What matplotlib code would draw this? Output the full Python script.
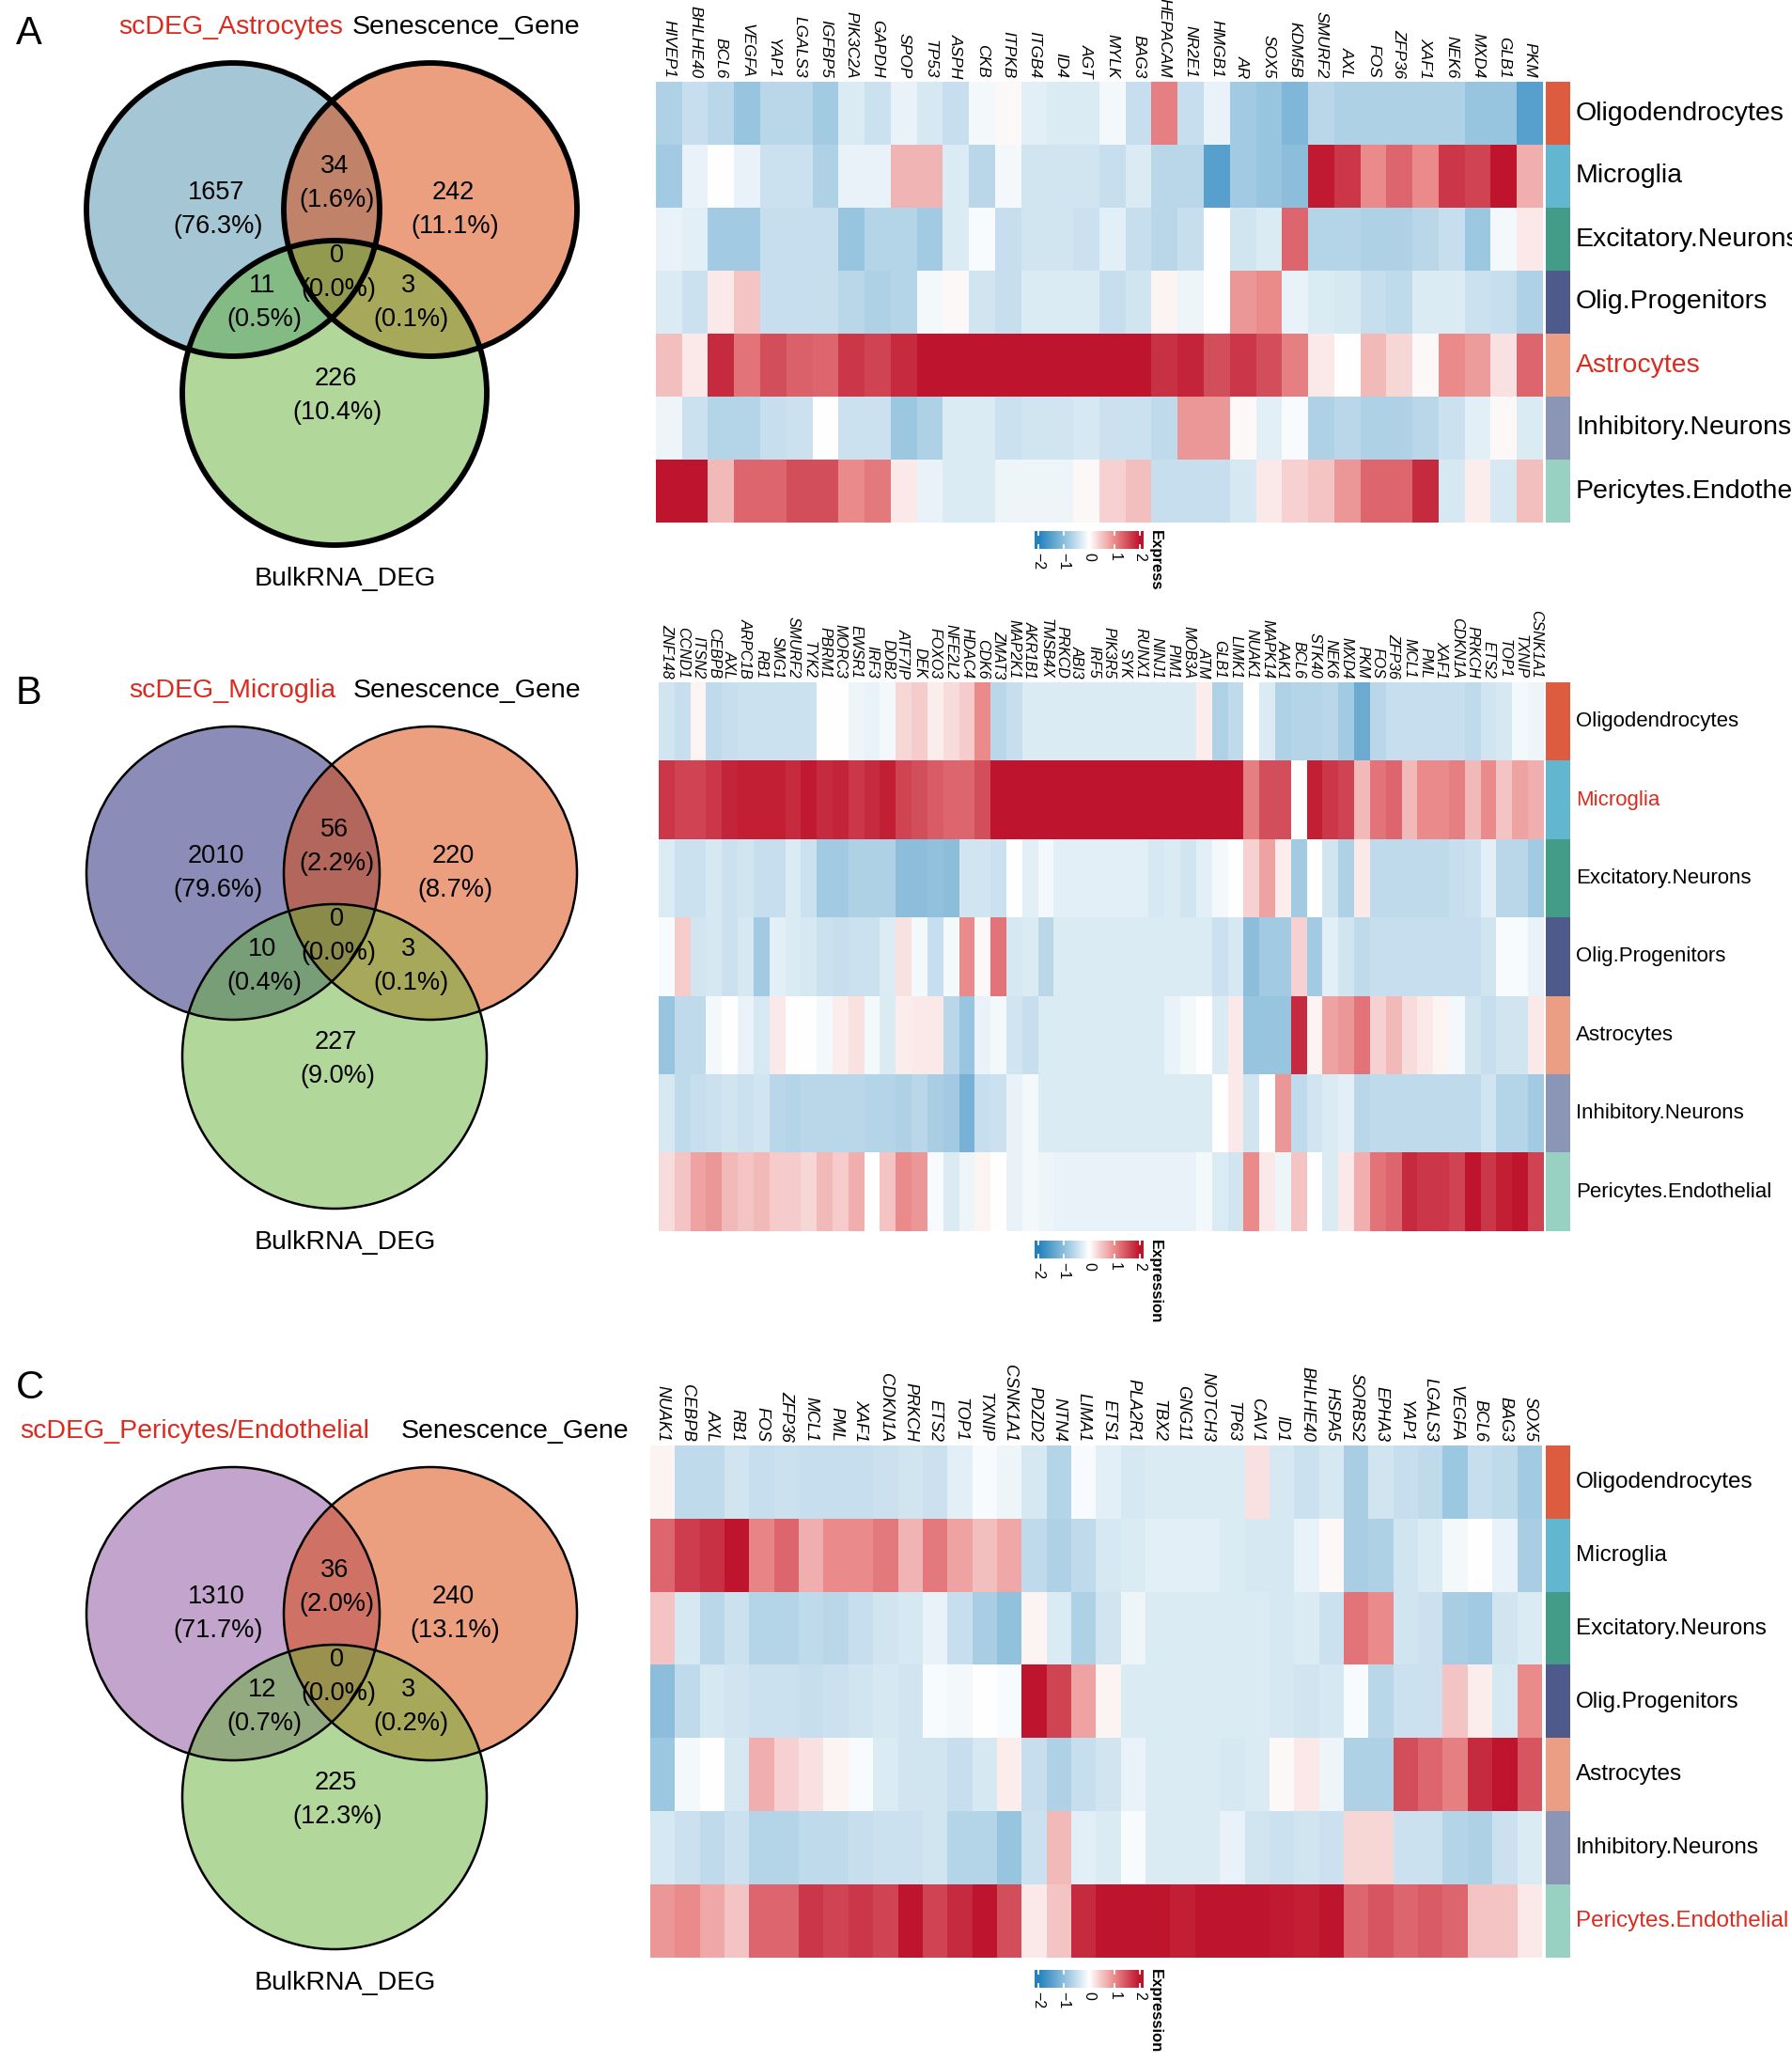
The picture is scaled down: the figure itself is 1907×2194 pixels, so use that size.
import matplotlib.pyplot as plt
import numpy as np
from matplotlib.colors import LinearSegmentedColormap, ListedColormap
from matplotlib.patches import Circle

plt.rcParams['font.family'] = ['Liberation Sans', 'DejaVu Sans']

W, H = 1907, 2194

# ---------------- data ----------------
cell_types = ["Oligodendrocytes", "Microglia", "Excitatory.Neurons", "Olig.Progenitors",
              "Astrocytes", "Inhibitory.Neurons", "Pericytes.Endothelial"]
type_colors = ["#dd5c40", "#63b6cf", "#429c88", "#4e5a8c", "#ec9e85", "#8b96b6", "#98d1c2"]

venn_sets = ["Senescence_Gene", "BulkRNA_DEG"]
# region order: only sc, sc&sen, only sen, all, sc&bulk, sen&bulk, only bulk
venn_A_counts = [1657, 34, 242, 0, 11, 3, 226]
venn_A_pcts = [76.3, 1.6, 11.1, 0.0, 0.5, 0.1, 10.4]
venn_B_counts = [2010, 56, 220, 0, 10, 3, 227]
venn_B_pcts = [79.6, 2.2, 8.7, 0.0, 0.4, 0.1, 9.0]
venn_C_counts = [1310, 36, 240, 0, 12, 3, 225]
venn_C_pcts = [71.7, 2.0, 13.1, 0.0, 0.7, 0.2, 12.3]

genes_A = ["HIVEP1", "BHLHE40", "BCL6", "VEGFA", "YAP1", "LGALS3", "IGFBP5", "PIK3C2A", "GAPDH",
           "SPOP", "TP53", "ASPH", "CKB", "ITPKB", "ITGB4", "ID4", "AGT", "MYLK", "BAG3", "HEPACAM",
           "NR2E1", "HMGB1", "AR", "SOX5", "KDM5B", "SMURF2", "AXL", "FOS", "ZFP36", "XAF1", "NEK6",
           "MXD4", "GLB1", "PKM"]
A_olig = [-0.7, -0.5, -0.6, -0.9, -0.6, -0.6, -0.8, -0.3, -0.45, -0.2, -0.35, -0.5, -0.1, 0.05, -0.25,
          -0.3, -0.3, -0.1, -0.5, 1.1, -0.5, -0.2, -0.8, -0.9, -1.1, -0.6, -0.7, -0.7, -0.7, -0.7,
          -0.7, -0.9, -0.9, -1.5]
A_micro = [-0.8, -0.2, 0.0, -0.2, -0.45, -0.45, -0.7, -0.2, -0.2, 0.65, 0.65, -0.3, -0.6, -0.1, -0.4,
           -0.4, -0.4, -0.5, -0.3, -0.6, -0.6, -1.5, -0.8, -0.9, -1.0, 1.95, 1.7, 1.0, 1.3, 1.0,
           1.7, 1.6, 2.0, 0.7]
A_exc = [-0.2, -0.25, -0.8, -0.8, -0.5, -0.5, -0.5, -0.9, -0.65, -0.65, -0.8, -0.3, -0.05, -0.5, -0.4,
         -0.4, -0.45, -0.25, -0.5, -0.6, -0.5, 0.0, -0.4, -0.3, 1.3, -0.65, -0.65, -0.7, -0.7, -0.6,
         -0.5, -0.85, -0.1, 0.2]
A_olp = [-0.3, -0.45, 0.2, 0.5, -0.5, -0.5, -0.5, -0.6, -0.7, -0.65, -0.1, 0.05, -0.4, -0.5, -0.3,
         -0.3, -0.3, -0.5, -0.4, 0.1, -0.15, 0.0, 0.9, 1.0, -0.2, -0.3, -0.35, -0.5, -0.55, -0.3,
         -0.3, -0.45, -0.5, -0.7]
A_ast = [0.55, 0.2, 1.8, 1.2, 1.5, 1.35, 1.3, 1.7, 1.6, 1.8, 2.0, 2.0, 2.0, 2.0, 2.0,
         2.0, 2.0, 2.0, 2.0, 1.75, 1.85, 1.5, 1.7, 1.5, 1.1, 0.2, 0.0, 0.6, 0.35, 0.05,
         1.0, 0.85, 0.25, 1.3]
A_inh = [-0.15, -0.45, -0.65, -0.65, -0.5, -0.45, 0.0, -0.45, -0.45, -0.85, -0.7, -0.3, -0.3, -0.45, -0.4,
         -0.4, -0.35, -0.45, -0.45, -0.55, 0.9, 0.9, 0.05, -0.25, -0.05, -0.7, -0.6, -0.7, -0.7, -0.6,
         -0.45, -0.25, 0.05, -0.3]
A_per = [2.0, 2.0, 0.6, 1.3, 1.3, 1.5, 1.5, 1.0, 1.15, 0.2, -0.2, -0.3, -0.3, -0.15, -0.15,
         -0.15, 0.05, 0.4, 0.55, -0.5, -0.5, -0.5, -0.35, 0.2, 0.4, 0.5, 0.9, 1.3, 1.3, 1.8,
         -0.35, 0.15, -0.35, 0.55]

genes_B = ["ZNF148", "CCND1", "ITSN2", "CEBPB", "AXL", "ARPC1B", "RB1", "SMG1", "SMURF2", "TYK2",
           "PBRM1", "MORC3", "EWSR1", "IRF3", "DDB2", "ATF7IP", "DEK", "FOXO3", "NFE2L2", "HDAC4",
           "CDK6", "ZMAT3", "MAP2K1", "AKR1B1", "TMSB4X", "PRKCD", "ABI3", "IRF5", "PIK3R5", "SYK",
           "RUNX1", "NINJ1", "PIM1", "MOB3A", "ATM", "GLB1", "LIMK1", "NUAK1", "MAPK14", "AAK1",
           "BCL6", "STK40", "NEK6", "MXD4", "PKM", "FOS", "ZFP36", "MCL1", "PML", "XAF1",
           "CDKN1A", "PRKCH", "ETS2", "TOP1", "TXNIP", "CSNK1A1"]
B_olig = [-0.4, -0.5, 0.1, -0.55, -0.5, -0.45, -0.45, -0.45, -0.45, -0.45,
          0.0, 0.0, -0.15, -0.2, -0.1, 0.35, 0.45, 0.15, 0.3, 0.45,
          1.0, -0.6, -0.5, -0.3, -0.3, -0.3, -0.3, -0.3, -0.3, -0.3,
          -0.3, -0.3, -0.3, -0.3, 0.15, -0.7, -0.55, 0.0, -0.3, -0.7,
          -0.65, -0.65, -0.6, -0.8, -1.3, -0.6, -0.5, -0.5, -0.5, -0.5,
          -0.5, -0.55, -0.4, -0.35, -0.1, -0.15]
B_micro = [1.7, 1.6, 1.6, 1.7, 1.85, 1.9, 1.9, 1.9, 1.8, 1.95,
           1.8, 1.85, 1.7, 1.8, 1.9, 1.6, 1.5, 1.4, 1.3, 1.3,
           1.5, 2.0, 2.0, 2.0, 2.0, 2.0, 2.0, 2.0, 2.0, 2.0,
           2.0, 2.0, 2.0, 2.0, 2.0, 2.0, 2.0, 1.1, 1.5, 1.5,
           0.0, 1.9, 1.7, 1.6, 0.6, 1.2, 1.3, 0.6, 1.0, 1.0,
           1.1, 0.6, 1.0, 0.5, 0.8, 0.7]
B_exc = [-0.3, -0.45, -0.45, -0.35, -0.45, -0.4, -0.5, -0.5, -0.3, -0.45,
         -0.8, -0.8, -0.7, -0.7, -0.7, -1.0, -1.0, -0.95, -1.0, -0.4,
         -0.4, -0.45, 0.0, -0.25, -0.1, -0.25, -0.25, -0.25, -0.25, -0.25,
         -0.25, -0.35, -0.3, -0.4, -0.25, -0.1, 0.0, 0.4, 0.8, 0.15,
         -0.8, 0.0, -0.4, -0.7, 0.2, -0.55, -0.55, -0.55, -0.55, -0.55,
         -0.5, -0.45, -0.25, -0.6, -0.6, -0.8]
B_olp = [-0.05, 0.45, -0.4, -0.35, -0.45, -0.35, -0.8, -0.25, -0.3, -0.35,
         -0.45, -0.5, -0.45, -0.45, -0.3, 0.25, -0.1, -0.5, -0.1, 1.0,
         0.05, 1.2, -0.35, -0.3, -0.6, -0.3, -0.3, -0.3, -0.3, -0.3,
         -0.3, -0.3, -0.3, -0.3, -0.3, -0.45, -0.35, -1.0, -0.8, -0.8,
         0.4, -0.8, -0.25, -0.4, -0.55, -0.5, -0.5, -0.5, -0.5, -0.5,
         -0.5, -0.5, -0.4, -0.05, -0.05, -0.2]
B_ast = [-0.9, -0.55, -0.55, -0.1, 0.0, -0.2, -0.35, 0.2, 0.0, 0.0,
         -0.1, 0.15, 0.25, -0.1, -0.3, 0.15, 0.2, 0.2, -0.6, -0.9,
         -0.2, -0.1, -0.4, -0.5, -0.3, -0.3, -0.3, -0.3, -0.3, -0.3,
         -0.3, -0.3, -0.2, -0.1, 0.0, -0.3, 0.2, -0.9, -0.9, -0.9,
         1.8, 0.1, 0.8, 0.9, 1.2, 0.4, 0.6, 0.3, 0.2, 0.1,
         -0.1, -0.4, -0.5, -0.4, -0.4, 0.2]
B_inh = [-0.35, -0.55, -0.5, -0.45, -0.4, -0.45, -0.4, -0.6, -0.65, -0.6,
         -0.6, -0.6, -0.6, -0.65, -0.65, -0.7, -0.6, -0.75, -0.8, -1.2,
         -0.5, -0.45, -0.2, -0.1, -0.3, -0.3, -0.3, -0.3, -0.3, -0.3,
         -0.3, -0.3, -0.3, -0.3, -0.3, 0.0, 0.2, -0.4, 0.0, 0.9,
         -0.55, -0.4, -0.3, -0.25, -0.6, -0.55, -0.55, -0.55, -0.55, -0.55,
         -0.55, -0.55, -0.4, -0.65, -0.65, -0.8]
B_per = [0.3, 0.5, 0.8, 0.9, 0.6, 0.5, 0.6, 0.45, 0.45, 0.35,
         0.6, 0.45, 0.7, 0.0, 0.5, 1.0, 0.9, -0.05, -0.3, -0.15,
         0.1, 0.0, -0.2, -0.1, -0.15, -0.2, -0.2, -0.2, -0.2, -0.2,
         -0.2, -0.2, -0.2, -0.2, -0.1, -0.3, -0.4, 1.0, 0.2, -0.15,
         0.5, 0.0, -0.3, 0.2, 0.7, 1.2, 1.3, 1.8, 1.7, 1.7,
         1.6, 2.0, 1.7, 1.9, 2.0, 1.6]

genes_C = ["NUAK1", "CEBPB", "AXL", "RB1", "FOS", "ZFP36", "MCL1", "PML", "XAF1", "CDKN1A",
           "PRKCH", "ETS2", "TOP1", "TXNIP", "CSNK1A1", "PDZD2", "NTN4", "LIMA1", "ETS1", "PLA2R1",
           "TBX2", "GNG11", "NOTCH3", "TP63", "CAV1", "ID1", "BHLHE40", "HSPA5", "SORBS2", "EPHA3",
           "YAP1", "LGALS3", "VEGFA", "BCL6", "BAG3", "SOX5"]
C_olig = [0.1, -0.55, -0.55, -0.4, -0.5, -0.45, -0.5, -0.5, -0.5, -0.45, -0.4, -0.45,
          -0.25, -0.05, -0.15, -0.35, -0.65, -0.05, -0.25, -0.35, -0.3, -0.3, -0.3, -0.3,
          0.25, -0.35, -0.45, -0.35, -0.75, -0.4, -0.5, -0.55, -0.85, -0.5, -0.55, -0.8]
C_micro = [1.3, 1.65, 1.75, 2.0, 1.05, 1.3, 0.7, 1.0, 1.0, 1.15, 0.65, 1.15,
           0.8, 0.55, 0.75, -0.55, -0.7, -0.55, -0.35, -0.3, -0.25, -0.25, -0.25, -0.3,
           -0.35, -0.35, -0.2, 0.05, -0.75, -0.7, -0.4, -0.3, -0.1, 0.0, -0.2, -0.75]
C_exc = [0.5, -0.35, -0.6, -0.45, -0.65, -0.65, -0.55, -0.6, -0.5, -0.4, -0.35, -0.2,
         -0.5, -0.75, -0.95, 0.1, -0.3, -0.7, -0.4, -0.15, -0.3, -0.3, -0.3, -0.3,
         -0.3, -0.35, -0.3, -0.45, 1.2, 1.0, -0.4, -0.45, -0.75, -0.8, -0.4, -0.3]
C_olp = [-1.0, -0.55, -0.35, -0.4, -0.45, -0.45, -0.5, -0.45, -0.4, -0.35, -0.4, -0.05,
         -0.1, 0.0, -0.05, 2.0, 1.6, 0.8, 0.1, -0.3, -0.3, -0.3, -0.3, -0.3,
         -0.3, -0.35, -0.4, -0.35, -0.05, -0.6, -0.45, -0.45, 0.5, 0.15, -0.35, 1.0]
C_ast = [-0.85, -0.1, 0.0, -0.35, 0.7, 0.4, 0.25, 0.1, -0.05, -0.3, -0.4, -0.4,
         -0.5, -0.35, 0.15, -0.5, -0.7, -0.5, -0.4, -0.2, -0.3, -0.3, -0.3, -0.35,
         -0.3, 0.05, 0.2, -0.15, -0.7, -0.7, 1.5, 1.3, 1.1, 1.8, 2.0, 1.45]
C_inh = [-0.35, -0.45, -0.55, -0.45, -0.65, -0.65, -0.55, -0.55, -0.5, -0.45, -0.45, -0.4,
         -0.65, -0.65, -0.9, -0.45, 0.6, -0.25, -0.3, -0.05, -0.3, -0.3, -0.3, -0.2,
         -0.4, -0.45, -0.4, -0.45, 0.35, 0.35, -0.45, -0.45, -0.65, -0.7, -0.45, -0.3]
C_per = [0.9, 1.0, 0.75, 0.5, 1.3, 1.3, 1.7, 1.6, 1.7, 1.6, 2.0, 1.6,
         1.8, 2.0, 1.5, 0.2, 0.5, 1.8, 2.0, 2.0, 2.0, 1.9, 2.0, 2.0,
         2.0, 1.95, 1.9, 2.0, 1.3, 1.45, 1.3, 1.4, 1.3, 0.5, 0.5, 0.2]

cbar_ticks = [-2, -1, 0, 1, 2]

# ---------------- style ----------------
RED = "#dc2a1f"
cmap = LinearSegmentedColormap.from_list(
    "expr", [(0.0, "#2382be"), (0.25, "#8cbedc"), (0.5, "#ffffff"), (0.75, "#eb8c8c"), (1.0, "#be142d")])

fig = plt.figure(figsize=(W / 100, H / 100), dpi=100)
bg = fig.add_axes([0, 0, 1, 1])
bg.set_xlim(0, W)
bg.set_ylim(H, 0)
bg.axis('off')


def px_axes(x0, y0, x1, y1):
    return fig.add_axes([x0 / W, 1 - y1 / H, (x1 - x0) / W, (y1 - y0) / H])


def venn(oy, letter, letter_y, sc_name, title_x, c1, counts, pcts, lw):
    circles = [((248, oy + 223), 156, c1), ((458, oy + 223), 156, "#db4100"),
               ((356, oy + 418), 162, "#65b137")]
    for (c, r, col) in circles:
        bg.add_patch(Circle(c, r, facecolor=col, alpha=0.5, edgecolor='none'))
    for (c, r, col) in circles:
        bg.add_patch(Circle(c, r, facecolor='none', edgecolor='black', lw=lw))
    pos = [(230, 205), (356, 177), (482, 205), (358, 272), (279, 304), (435, 304), (357, 403)]
    for (x, y), n, p in zip(pos, counts, pcts):
        bg.text(x, oy + y, str(n), ha='center', va='center', fontsize=19.5)
        bg.text(x + 2, oy + y + 36, "(%.1f%%)" % p, ha='center', va='center', fontsize=19.5)
    bg.text(17, letter_y, letter, ha='left', va='center', fontsize=30)
    bg.text(title_x[0], oy + 29, sc_name, ha='center', va='center', fontsize=20.5, color=RED)
    bg.text(title_x[1], oy + 29, venn_sets[0], ha='center', va='center', fontsize=20.5)
    bg.text(367, oy + 616, venn_sets[1], ha='center', va='center', fontsize=20.5)


def heatmap(rows, genes, x0, x1, y0, y1, gene_fs, row_fs, hl):
    mat = np.array(rows)
    ax = px_axes(x0, y0, x1, y1)
    ax.imshow(mat, cmap=cmap, vmin=-2, vmax=2, aspect='auto', interpolation='nearest')
    ax.axis('off')
    cw = (x1 - x0) / len(genes)
    for i, g in enumerate(genes):
        bg.text(x0 + cw * (i + 0.5), y0 - 4, g, rotation=-90, rotation_mode='anchor',
                ha='right', va='center', fontsize=gene_fs, style='italic')
    sx = px_axes(1645, y0, 1671, y1)
    sx.imshow(np.arange(len(cell_types))[:, None], cmap=ListedColormap(type_colors),
              aspect='auto', interpolation='nearest')
    sx.axis('off')
    rh = (y1 - y0) / len(cell_types)
    for i, t in enumerate(cell_types):
        bg.text(1677, y0 + rh * (i + 0.5), t, ha='left', va='center', fontsize=row_fs,
                color=RED if t == hl else 'black')


def colorbar(y0, title):
    x0, x1, lo, hi = 1101, 1217, -2.15, 2.15
    ax = px_axes(x0, y0, x1, y0 + 19)
    ax.imshow(np.linspace(lo, hi, 256)[None, :], cmap=cmap, vmin=-2, vmax=2,
              aspect='auto', extent=[lo, hi, 0, 1])
    for v in cbar_ticks:
        ax.plot([v, v], [0, 0.22], color='white', lw=1.3)
        ax.plot([v, v], [0.78, 1], color='white', lw=1.3)
    ax.set_xlim(lo, hi)
    ax.set_ylim(0, 1)
    ax.axis('off')
    for v in cbar_ticks:
        x = x0 + (v - lo) / (hi - lo) * (x1 - x0)
        bg.text(x, y0 + 23, str(v).replace('-', '\u2212'), rotation=-90, rotation_mode='anchor',
                ha='left', va='center', fontsize=11.5)
    bg.text(1222, y0 - 1, title, rotation=-90, rotation_mode='anchor', ha='left', va='bottom',
            fontsize=12, fontweight='bold')


venn(0, "A", 36, "scDEG_Astrocytes", (246, 496), "#4d8fad", venn_A_counts, venn_A_pcts, 4.2)
venn(706, "B", 738, "scDEG_Microglia", (247, 497), "#1b1b75", venn_B_counts, venn_B_pcts, 1.8)
venn(1494, "C", 1477, "scDEG_Pericytes/Endothelial", (207, 548), "#894b9b",
     venn_C_counts, venn_C_pcts, 1.8)

heatmap([A_olig, A_micro, A_exc, A_olp, A_ast, A_inh, A_per], genes_A, 698, 1642, 87, 556,
        12.5, 20.5, "Astrocytes")
heatmap([B_olig, B_micro, B_exc, B_olp, B_ast, B_inh, B_per], genes_B, 701, 1643, 726, 1310,
        11.5, 16, "Microglia")
heatmap([C_olig, C_micro, C_exc, C_olp, C_ast, C_inh, C_per], genes_C, 692, 1641, 1538, 2083,
        13, 17.5, "Pericytes.Endothelial")

colorbar(565, "Express")
colorbar(1320, "Expression")
colorbar(2096, "Expression")

fig.savefig("out.png", dpi=100)
